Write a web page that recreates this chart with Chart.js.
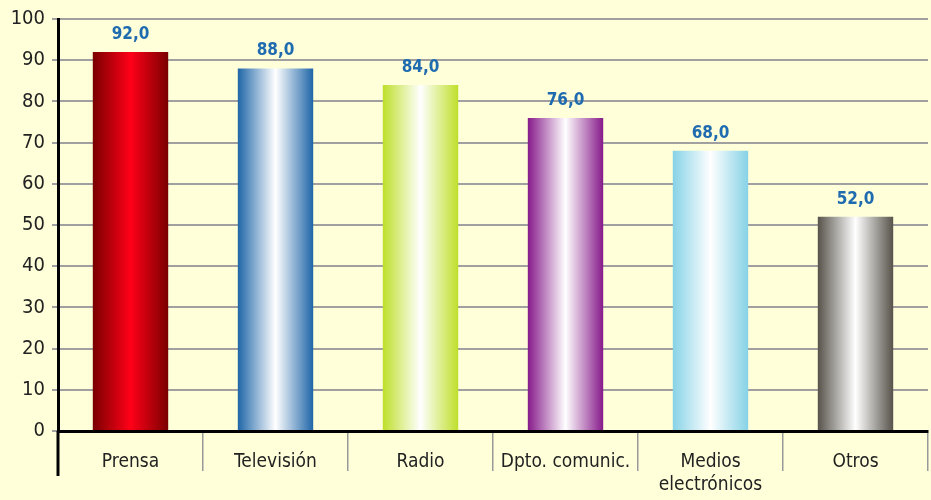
<!DOCTYPE html>
<html>
<head>
<meta charset="utf-8">
<script src="https://cdn.jsdelivr.net/npm/chart.js@4.4.0/dist/chart.umd.min.js"></script>
<style>
  body { margin: 0; background: #FFFFDA; }
  canvas { display: block; }
</style>
</head>
<body>
<canvas id="chart" width="931" height="500"></canvas>
<script>
// Chart data
const categories = ['Prensa', 'Televisión', 'Radio', 'Dpto. comunic.', ['Medios', 'electrónicos'], 'Otros'];
const values = [92.0, 88.0, 84.0, 76.0, 68.0, 52.0];
const yTicks = [0, 10, 20, 30, 40, 50, 60, 70, 80, 90, 100];

// edge / centre colours for the cylinder look
const edgeColors = ['#7A0000', '#1F66A8', '#BEDF2A', '#861A8A', '#86D2E6', '#57534B'];
const midColors = ['#FF0018', '#FFFFFF', '#FFFFFF', '#FFFFFF', '#FFFFFF', '#FFFFFF'];

const FONT = '"DejaVu Sans Condensed", "DejaVu Sans", sans-serif';
const BAR_PCT = 0.52;

function barGradient(ctx) {
    const chart = ctx.chart;
    const i = ctx.dataIndex;
    const xs = chart.scales.x;
    if (!xs || !chart.chartArea) return edgeColors[i];
    const cx = xs.getPixelForValue(i);
    const w = xs.width / categories.length * BAR_PCT;
    const g = chart.ctx.createLinearGradient(cx - w / 2, 0, cx + w / 2, 0);
    g.addColorStop(0, edgeColors[i]);
    g.addColorStop(0.5, midColors[i]);
    g.addColorStop(1, edgeColors[i]);
    return g;
}

const valueLabels = {
    id: 'valueLabels',
    afterDatasetsDraw(chart) {
        const c = chart.ctx;
        const meta = chart.getDatasetMeta(0);
        c.save();
        c.font = 'bold 17px ' + FONT;
        c.fillStyle = '#1F6BB0';
        c.textAlign = 'center';
        c.textBaseline = 'bottom';
        meta.data.forEach(function(bar, i) {
            c.fillText(values[i].toFixed(1).replace('.', ','), bar.x, bar.y - 9);
        });
        c.restore();
    },
    afterDraw(chart) {
        // y axis continues below the category axis
        const c = chart.ctx;
        const a = chart.chartArea;
        c.save();
        c.strokeStyle = '#000';
        c.lineWidth = 3;
        c.beginPath();
        c.moveTo(a.left, a.bottom);
        c.lineTo(a.left, 476);
        c.stroke();
        c.restore();
    }
};

new Chart(document.getElementById('chart').getContext('2d'), {
    type: 'bar',
    data: {
        labels: categories,
        datasets: [{
            data: values,
            backgroundColor: barGradient,
            borderWidth: 0,
            barPercentage: BAR_PCT,
            categoryPercentage: 1
        }]
    },
    options: {
        responsive: false,
        animation: false,
        layout: { padding: { top: 13, right: 3, left: 0, bottom: 0 } },
        plugins: { legend: { display: false }, tooltip: { enabled: false } },
        scales: {
            x: {
                offset: true,
                afterFit: function(axis) { axis.height = 69; },
                grid: {
                    offset: true,
                    drawOnChartArea: true,
                    color: function(ctx) { return ctx.index === categories.length ? '#999999' : 'rgba(0,0,0,0)'; },
                    tickColor: '#999999',
                    tickLength: 40,
                    lineWidth: 1.5
                },
                border: { color: '#000000', width: 3 },
                ticks: {
                    color: '#222222',
                    font: { family: FONT, size: 19 },
                    padding: -20,
                    maxRotation: 0,
                    autoSkip: false
                }
            },
            y: {
                min: 0,
                max: 100,
                afterFit: function(axis) { axis.width = 58; },
                afterBuildTicks: function(axis) {
                    axis.ticks = yTicks.map(function(v) { return { value: v }; });
                },
                grid: { color: '#A0A0A0', lineWidth: 2, tickLength: 6 },
                border: { color: '#000000', width: 3 },
                ticks: {
                    color: '#222222',
                    font: { family: FONT, size: 20 },
                    padding: 7
                }
            }
        }
    },
    plugins: [valueLabels]
});
</script>
</body>
</html>
